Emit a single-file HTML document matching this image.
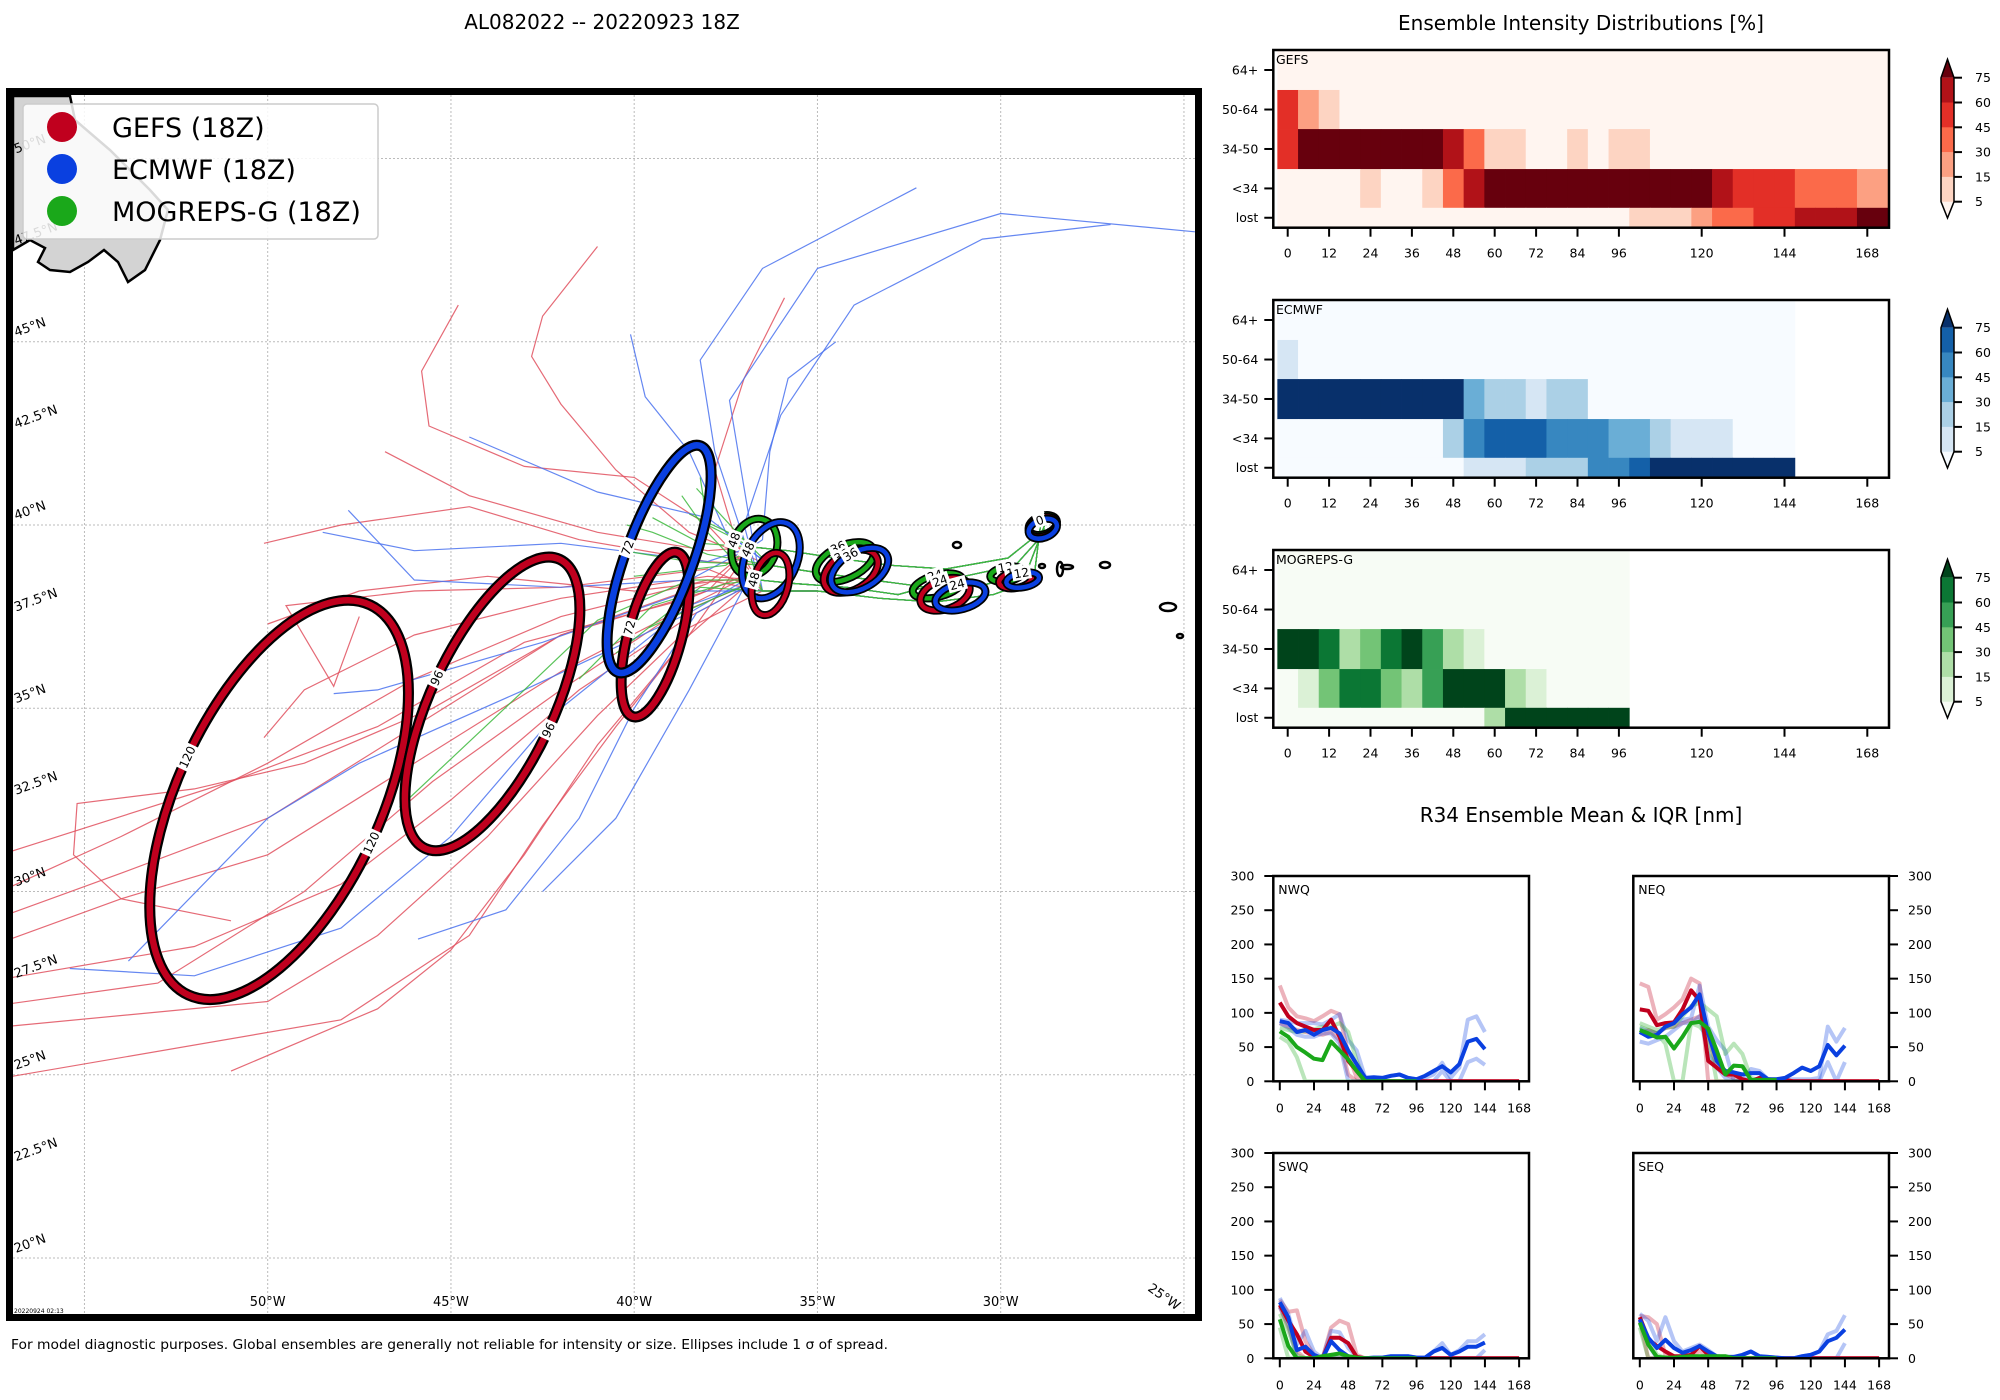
<!DOCTYPE html>
<html><head><meta charset="utf-8"><title>AL082022 ensemble</title>
<style>
html,body{margin:0;padding:0;background:#fff;}
svg{display:block;font-family:"DejaVu Sans","Liberation Sans",sans-serif;}
</style></head>
<body>
<svg id="fig" width="2000" height="1400" viewBox="0 0 2000 1400">
  <defs>
    <clipPath id="mapclip"><rect x="13" y="95" width="1182" height="1219"/></clipPath>
  </defs>
  <text x="602" y="29" font-size="20" text-anchor="middle">AL082022 -- 20220923 18Z</text>
  <text x="1581" y="30" font-size="20" text-anchor="middle">Ensemble Intensity Distributions [%]</text>
  <text x="1581" y="822" font-size="20" text-anchor="middle">R34 Ensemble Mean &amp; IQR [nm]</text>
  <text x="11" y="1349" font-size="13" textLength="877" lengthAdjust="spacingAndGlyphs">For model diagnostic purposes. Global ensembles are generally not reliable for intensity or size. Ellipses include 1 σ of spread.</text>
  <g id="map"></g>
  <g id="heat"></g>
  <g id="r34"></g>
</svg>
<script>
// ---------------- DATA ----------------
const heatHours = [0,6,12,18,24,30,36,42,48,54,60,66,72,78,84,90,96,102,108,114,120,126,132,138,144,150,156,162,168];
const heatRows = ['64+','50-64','34-50','<34','lost'];
const heatLevels = [5,15,30,45,60,75];
const gefsPct = [
 [0,0,0,0,0,0,0,0,0,0,0,0,0,0,0,0,0,0,0,0,0,0,0,0,0,0,0,0,0],
 [50,20,10,0,0,0,0,0,0,0,0,0,0,0,0,0,0,0,0,0,0,0,0,0,0,0,0,0,0],
 [50,90,90,90,90,90,90,90,70,40,10,10,0,0,10,0,10,10,0,0,0,0,0,0,0,0,0,0,0],
 [0,0,0,0,10,0,0,10,40,70,90,90,90,90,90,90,90,90,90,90,90,70,50,50,50,40,40,40,20],
 [0,0,0,0,0,0,0,0,0,0,0,0,0,0,0,0,0,10,10,10,20,40,40,50,50,70,70,70,90]
];
const ecmwfPct = [
 [0,0,0,0,0,0,0,0,0,0,0,0,0,0,0,0,0,0,0,0,0,0,0,0,0],
 [10,0,0,0,0,0,0,0,0,0,0,0,0,0,0,0,0,0,0,0,0,0,0,0,0],
 [90,90,90,90,90,90,90,90,90,40,20,20,10,20,20,0,0,0,0,0,0,0,0,0,0],
 [0,0,0,0,0,0,0,0,20,50,70,70,70,50,50,50,40,40,20,10,10,10,0,0,0],
 [0,0,0,0,0,0,0,0,0,10,10,10,20,20,20,50,50,70,90,90,90,90,90,90,90]
];
const mogPct = [
 [0,0,0,0,0,0,0,0,0,0,0,0,0,0,0,0,0],
 [0,0,0,0,0,0,0,0,0,0,0,0,0,0,0,0,0],
 [90,90,70,20,40,70,90,50,20,10,0,0,0,0,0,0,0],
 [0,10,40,70,70,40,20,50,90,90,90,20,10,0,0,0,0],
 [0,0,0,0,0,0,0,0,0,0,20,90,90,90,90,90,90]
];
const reds   = ['#fff5f0','#fdd4c2','#fca082','#fb6a4a','#e32f27','#b11218','#67000d'];
const blues  = ['#f7fbff','#d6e6f4','#abd0e6','#6aaed6','#3787c0','#1460a8','#08306b'];
const greens = ['#f7fcf5','#dbf1d6','#aedea7','#73c476','#37a055','#0b7734','#00441b'];
const heatXTicks = [0,12,24,36,48,60,72,84,96,120,144,168];

// R34 (nm)
const r34Hours = [0,6,12,18,24,30,36,42,48,54,60,66,72,78,84,90,96,102,108,114,120,126,132,138,144,150,156,162,168];
const r34Ticks = [0,24,48,72,96,120,144,168];
const r34YTicks = [0,50,100,150,200,250,300];
const nwqGefsMean = [115,95,85,80,75,75,90,65,30,15,0,0,0,0,0,0,0,0,0,0,0,0,0,0,0,0,0,0,0];
const nwqGefsHi   = [140,108,95,92,88,95,103,98,40,5,0,0,0,0,0,0,0,0,0,0,0,0,0,0,0,0,0,0,0];
const nwqGefsLo   = [85,80,75,72,70,68,72,60,10,0,0,0,0,0,0,0,0,0,0,0,0,0,0,0,0,0,0,0,0];
const nwqEcMean = [88,85,72,75,68,75,78,70,45,25,5,6,5,8,10,5,3,8,15,22,13,25,58,62,47];
const nwqEcHi   = [90,88,85,85,85,83,90,98,60,45,5,5,5,8,10,5,3,5,10,27,5,20,90,95,72];
const nwqEcLo   = [85,78,68,65,65,70,70,55,0,0,0,0,0,0,0,0,0,0,0,15,0,0,28,33,24];
const nwqMoMean = [73,65,50,42,33,31,58,45,32,15,0,0,0,0,0,0,0];
const nwqMoHi   = [78,75,72,73,76,80,80,85,72,30,0,0,0,0,0,0,0];
const nwqMoLo   = [65,57,35,0,0,0,0,0,0,0,0,0,0,0,0,0,0];
const neqGefsMean = [105,103,82,85,86,105,133,118,30,20,10,10,3,0,5,3,2,2,0,0,0,0,0,0,0,0,0,0,0];
const neqGefsHi   = [143,138,90,98,108,120,150,143,0,0,0,0,0,0,0,0,0,0,0,0,0,0,0,0,0,0,0,0,0];
const neqGefsLo   = [70,75,70,78,80,85,90,95,65,20,10,5,0,0,0,0,0,0,0,0,0,0,0,0,0,0,0,0,0];
const neqEcMean = [72,65,68,80,85,98,108,127,70,30,15,13,10,12,12,3,3,5,12,20,15,22,53,38,52];
const neqEcHi   = [78,73,70,78,87,90,92,140,80,60,45,0,0,18,15,3,3,3,3,3,3,5,80,58,78];
const neqEcLo   = [58,55,60,65,75,85,85,95,40,20,5,0,0,0,0,0,0,0,0,0,0,0,28,0,28];
const neqMoMean = [75,70,64,65,48,65,85,87,77,45,10,23,22,2,2,2,2];
const neqMoHi   = [85,80,75,78,80,95,110,115,105,95,40,55,40,5,2,2,2];
const neqMoLo   = [80,75,70,55,0,0,85,80,65,0,0,0,0,0,0,0,0];
const swqGefsMean = [78,55,35,10,2,0,30,30,22,2,0,0,0,0,0,0,0,0,0,0,0,0,0,0,0,0,0,0,0];
const swqGefsHi   = [85,68,70,25,5,0,45,55,50,5,0,0,0,0,0,0,0,0,0,0,0,0,0,0,0,0,0,0,0];
const swqGefsLo   = [75,45,10,0,0,0,0,0,0,0,0,0,0,0,0,0,0,0,0,0,0,0,0,0,0,0,0,0,0];
const swqEcMean = [82,60,12,17,5,0,25,12,3,0,0,1,1,3,3,3,1,1,10,15,5,10,17,17,23];
const swqEcHi   = [88,65,20,40,10,0,40,38,15,2,0,1,1,3,3,3,1,1,10,22,5,12,25,25,35];
const swqEcLo   = [75,50,0,0,0,0,0,0,0,0,0,0,0,0,0,0,0,0,0,0,0,0,0,0,12];
const swqMoMean = [57,18,0,0,0,3,5,7,3,1,0,0,0,0,0,0,0];
const swqMoHi   = [65,40,5,0,0,3,5,7,3,1,0,0,0,0,0,0,0];
const swqMoLo   = [45,0,0,0,0,0,0,0,0,0,0,0,0,0,0,0,0];
const seqGefsMean = [60,28,18,10,3,3,5,18,5,2,0,0,0,0,0,0,0,0,0,0,0,0,0,0,0,0,0,0,0];
const seqGefsHi   = [62,60,50,5,0,0,5,10,5,2,0,0,0,0,0,0,0,0,0,0,0,0,0,0,0,0,0,0,0];
const seqGefsLo   = [55,0,0,0,0,0,0,0,0,0,0,0,0,0,0,0,0,0,0,0,0,0,0,0,0,0,0,0,0];
const seqEcMean = [57,30,15,27,15,8,12,18,10,3,2,2,5,10,3,2,1,0,0,3,5,10,25,30,42];
const seqEcHi   = [65,55,25,60,25,10,15,20,12,3,2,2,5,10,3,2,1,0,0,3,5,10,35,40,63];
const seqEcLo   = [55,20,0,0,0,0,0,0,0,0,0,0,0,0,0,0,0,0,0,0,0,0,0,0,22];
const seqMoMean = [52,20,2,1,1,2,3,3,3,3,3,0,0,0,0,0,0];
const seqMoHi   = [60,30,5,1,1,2,3,3,3,3,3,0,0,0,0,0,0];
const seqMoLo   = [45,0,0,0,0,0,0,0,0,0,0,0,0,0,0,0,0];

// Map: tracks as [lonW, lat]
const trunkA = [[28.8,40.0],[29.3,38.7],[30.5,38.35],[32,38.3],[33.5,38.5],[35,38.7],[36.3,38.9]];
const trunkB = [[28.7,39.9],[29.6,38.9],[31,38.6],[32.8,38.1],[34.2,38.3],[35.6,38.4],[36.6,38.5]];
const trunkC = [[28.9,40.1],[29.1,38.5],[30.2,38.1],[31.8,37.9],[33.3,38.0],[35,38.2],[36.5,38.2]];
const trunkD = [[28.8,39.9],[29.8,39.1],[31.5,38.8],[33,38.9],[34.5,39.1],[35.8,39.3],[36.8,39.4]];
const trunks = [trunkA,trunkB,trunkC,trunkD];
const gefsTracks = [
 [[38.5,39.8],[40.5,41.5],[42.0,43.3],[42.8,44.6],[42.5,45.7],[41.0,47.6]],
 [[38,40.0],[40,41.3],[43,41.6],[45.6,42.7],[45.8,44.2],[44.8,46.0]],
 [[38,38.5],[42,37.5],[46,35.8],[50,33.5],[54,31.5],[57.3,30.0]],
 [[38,38.2],[42,37],[46,34.5],[50,32],[54,30.5],[57.3,29.3]],
 [[38.5,37.8],[42,36],[46,33.5],[50,31],[54,29.8],[57.3,28.6]],
 [[38.5,37.5],[41.5,35.5],[45,32.5],[48,30.2],[52,28.5],[57.3,27.6]],
 [[38.5,37.2],[41,34.8],[44,31.5],[47,28.8],[50,27.0],[57.3,26.3]],
 [[38.5,37],[41,34],[43,31],[45,28.4],[47,26.8],[51,25.1]],
 [[38.5,37.0],[40.5,34.5],[42.5,31.8],[44.5,28.8],[48,26.5],[57.3,24.9]],
 [[38,38.6],[42,38.0],[46,37.0],[49,35.5],[50.1,34.2]],
 [[38,38.8],[42,38.3],[46,38.2],[49.5,37.8],[48.2,35.6],[47.5,37.5]],
 [[38,38.4],[42,37],[45.5,35],[49,33.5],[52,32.8],[55.2,32.4],[55.3,31.0],[54,29.8],[51,29.2]],
 [[38,39],[41.5,39.6],[44.5,40.5],[48,40.0],[50.1,39.5]],
 [[37.5,38.5],[40,38.2],[44,38.6],[47.5,38.2],[50,37.3]],
 [[37.2,39.5],[37.8,41.5],[37,44],[35.9,46.2]],
 [[38,39.3],[41,39.8],[44.5,40.8],[46.8,42.0]],
 [[38.5,38.0],[43,36.8],[47,34.5],[51,33],[57.3,31.0]],
 [[39,37.5],[42,35.5],[45.5,33],[49,30],[53,27.5],[57.3,26.9]]
];
const ecmwfTracks = [
 [[37,39.6],[37.8,42],[38.2,44.5],[36.5,47],[32.3,49.2]],
 [[36.8,39.8],[37.4,43.4],[35,47],[30,48.5],[24.7,48.0]],
 [[36.5,39.6],[36.3,42],[35.8,44],[34.5,45.0]],
 [[37.5,39.8],[38.5,42],[39.7,43.5],[40.1,45.2]],
 [[38.5,37.8],[42,35.0],[45,31.5],[48,29.0],[52,27.7],[55.4,27.9]],
 [[38.5,38.2],[42.5,36.8],[47,35.5],[48.2,35.4]],
 [[38.5,38.5],[42,38.3],[46,38.5],[47.8,40.4]],
 [[38,40.2],[41,40.9],[44.5,42.4]],
 [[38.3,37.6],[40,35],[41.5,32],[43.5,29.5],[45.9,28.7]],
 [[37,38.3],[38.5,35.5],[40.5,32],[42.5,30.0]],
 [[38,39],[42,39.5],[46,39.3],[48.5,39.8]],
 [[38.5,37.6],[43,35.5],[47.5,33.5],[50,32],[53.8,28.1]],
 [[37,40.0],[36,43],[34,46],[30.5,47.8],[27,48.2]]
];
const mogTracks = [
 [[38,39.8],[38.7,40.8]],
 [[38.2,39.5],[39.5,40.2]],
 [[38,39.2],[39.5,39.8],[40.2,40.0]],
 [[38.5,38.5],[41,37.4],[43,35.5],[46.4,32.3]],
 [[38.2,38.3],[40.5,36.5]],
 [[38,40.0],[38.2,41.3]],
 [[38.5,39],[40.3,39.3]],
 [[37.5,38.4],[39.5,37.8],[41.5,35.8]],
 [[37,39.6],[38.5,40.3]],
 [[37.5,38.9],[40.0,38.6]],
 [[37.2,39.8],[38.3,41.0]],
 [[37.8,38.0],[39.6,37.2]]
];
const ellModel = ['g','g','g','e','m','e','g','m','g','e','m','g','e','m','g','e','m','g','e'];
const ellHour  = [120,96,72,72,48,48,48,36,36,36,24,24,24,12,12,12,0,0,0];
const ellLon   = [49.69,43.87,39.43,39.32,36.72,36.27,36.28,34.25,34.09,33.85,31.72,31.52,31.10,29.84,29.6,29.4,28.85,28.85,28.85];
const ellLat   = [32.5,35.12,37.01,39.07,39.39,39.04,38.39,38.99,38.74,38.77,38.34,38.11,38.05,38.66,38.5,38.5,40.0,39.95,39.9];
const ellA     = [5.87,4.35,2.32,3.29,0.8,1.1,0.87,0.85,0.8,0.85,0.7,0.7,0.7,0.45,0.45,0.45,0.4,0.4,0.4];
const ellB     = [2.77,1.68,0.73,0.92,0.6,0.7,0.48,0.45,0.5,0.5,0.3,0.4,0.35,0.2,0.22,0.2,0.25,0.25,0.25];
const ellAng   = [65,65,75,70,70,65,75,25,30,30,15,20,15,10,10,10,20,20,20];
const latTicks = [20,22.5,25,27.5,30,32.5,35,37.5,40,42.5,45,47.5,50];
const lonTicks = [50,45,40,35,30];
const gridLats = [20,25,30,35,40,45,50];
const gridLons = [55,50,45,40,35,30,25];

// ---------------- HELPERS ----------------
const NS='http://www.w3.org/2000/svg';
const svg=document.getElementById('fig');
function mk(tag,attrs,parent){const e=document.createElementNS(NS,tag);for(const k in attrs)e.setAttribute(k,attrs[k]);(parent||svg).appendChild(e);return e;}
const modelColor={g:'#c0001e',e:'#0a40e0',m:'#1aa81a'};
const trackColor={g:'#e0505e',e:'#4a72ee',m:'#3cb83c'};

// ---------------- MAP ----------------
const mapG=document.getElementById('map');
const mapX = lonW => 267.7 + (50 - lonW)*36.65;
const mapY = lat => 525 + (40 - lat)*36.65;
const inner=mk('g',{'clip-path':'url(#mapclip)'},mapG);


gridLats.forEach(la=>{const l=mk('line',{x1:13,x2:1195,y1:mapY(la),y2:mapY(la),stroke:'#bbb','stroke-width':1,'stroke-dasharray':'2,2'},inner);
 
 });
gridLons.forEach(lo=>{const l=mk('line',{y1:95,y2:1314,x1:mapX(lo),x2:mapX(lo),stroke:'#bbb','stroke-width':1,'stroke-dasharray':'2,2'},inner);
 
 });
const land=mk('path',{d:'M13,96 L70,96 L75,120 L110,150 L150,190 L168,210 L160,240 L145,270 L128,282 L118,262 L104,250 L88,262 L70,272 L50,270 L38,262 L45,248 L30,240 L13,250 Z',fill:'#d3d3d3',stroke:'#000','stroke-width':2.5},inner);


[[957,545,4,3],[1060,569,3,7],[1067,567,6,2],[1105,565,5,3],[1168,607,8,4],[1180,636,3,2],[1042,566,3,2]].forEach(p=>{
 const e=mk('ellipse',{cx:p[0],cy:p[1],rx:p[2],ry:p[3],fill:'none',stroke:'#000','stroke-width':2.5},inner);
 
 });
function drawTracks(list,m,off){list.forEach((t,i)=>{const tr=trunks[(i+off)%trunks.length];
 const pts=tr.concat(t).map(p=>mapX(p[0]).toFixed(1)+','+mapY(p[1]).toFixed(1)).join(' ');
 const pl=mk('polyline',{points:pts,fill:'none',stroke:trackColor[m],'stroke-width':1.2,'stroke-opacity':0.85},inner);
 
 });}
drawTracks(gefsTracks,'g',0);drawTracks(ecmwfTracks,'e',1);drawTracks(mogTracks,'m',2);
const PX=36.65;
ellHour.forEach((h,i)=>{
 const cx=mapX(ellLon[i]),cy=mapY(ellLat[i]),rx=ellA[i]*PX,ry=ellB[i]*PX,ang=ellAng[i];
 const g=mk('g',{transform:`translate(${cx.toFixed(1)},${cy.toFixed(1)}) rotate(${-ang})`},inner);
 
 
 const big=h>=72;
 mk('ellipse',{cx:0,cy:0,rx:rx,ry:ry,fill:'none',stroke:'#000','stroke-width':big?11:8},g);
 mk('ellipse',{cx:0,cy:0,rx:rx,ry:ry,fill:'none',stroke:modelColor[ellModel[i]],'stroke-width':big?6.5:4.5},g);
 const ends = (h>=96)?[ry,-ry]:[-ry];
 ends.forEach(v=>{const lg=mk('g',{transform:`translate(0,${v})`},g);
  
  
  const s=String(h);const w=s.length*7.5+4;
  mk('rect',{x:-w/2,y:-7,width:w,height:14,fill:'#fff'},lg);
  mk('text',{x:0,y:4.5,'font-size':12,'text-anchor':'middle'},lg).textContent=s;});
});
latTicks.forEach(la=>{const t=mk('text',{x:16,y:mapY(la)-5,'font-size':13,transform:`rotate(-20 16 ${mapY(la)-5})`},mapG);
 t.textContent=la+'°N';
 
 });
lonTicks.forEach(lo=>{const t=mk('text',{x:mapX(lo),y:1306,'font-size':13,'text-anchor':'middle'},mapG);
 t.textContent=lo+'°W';
 
 });
const t25=mk('text',{x:1147,y:1290,'font-size':13,transform:'rotate(35 1147 1290)'},mapG);
t25.textContent='25°W';


const ts=mk('text',{x:14,y:1313,'font-size':6},mapG);
ts.textContent='20220924 02:13';


const leg=mk('g',{},mapG);


mk('rect',{x:23,y:104,width:355,height:135,rx:4,fill:'#fff','fill-opacity':0.85,stroke:'#ccc','stroke-width':1.5},leg);
const legNames=['GEFS (18Z)','ECMWF (18Z)','MOGREPS-G (18Z)'];
const legModels=['g','e','m'];
legNames.forEach((n,i)=>{const y=127+i*42;
 const e=mk('g',{},leg);
 
 
 mk('circle',{cx:62,cy:y,r:15,fill:modelColor[legModels[i]]},e);
 mk('text',{x:112,y:y+10,'font-size':27},e).textContent=n;});
const fr=mk('rect',{x:9.5,y:91.5,width:1189,height:1226,fill:'none',stroke:'#000','stroke-width':7},mapG);



// ---------------- HEATMAPS ----------------
const heatG=document.getElementById('heat');
const HL=1273.3,HR=1889,HH=177.7;
const hx = h => 1287.7 + h*3.45;
const rowFr=[0,0.225,0.445,0.67,0.888,1];
const rowTick=[0.1125,0.335,0.557,0.779,0.944];
function level(v){let k=0;heatLevels.forEach(l=>{if(v>=l)k++;});return k;}
function renderHeat(top,data,cmap,label,nm){
 const g=mk('g',{},heatG);
 
 
 mk('rect',{x:HL,y:top,width:HR-HL,height:HH,fill:'#fff'},g);
 data.forEach((row,r)=>{row.forEach((v,c)=>{const h=heatHours[c];
  const x0=Math.max(HL,hx(h-3));const x1=(c===heatHours.length-1)?HR:hx(h+3);
  const y0=top+rowFr[r]*HH,y1=top+rowFr[r+1]*HH;
  const cell=mk('rect',{x:x0.toFixed(2),y:y0.toFixed(2),width:(x1-x0+0.4).toFixed(2),height:(y1-y0+0.4).toFixed(2),fill:cmap[level(v)]},g);
  
  });});
 mk('rect',{x:HL,y:top,width:HR-HL,height:HH,fill:'none',stroke:'#000','stroke-width':2.5},g);
 mk('text',{x:1276,y:top+14,'font-size':12.5},g).textContent=label;
 heatRows.forEach((rn,r)=>{const y=top+rowTick[r]*HH;
  mk('line',{x1:HL-9,x2:HL,y1:y,y2:y,stroke:'#000','stroke-width':2},g);
  const t=mk('text',{x:HL-15,y:y+4.5,'font-size':12.5,'text-anchor':'end'},g);
  t.textContent=rn;
  
  });
 heatXTicks.forEach(h=>{const x=hx(h);
  mk('line',{x1:x,x2:x,y1:top+HH,y2:top+HH+9,stroke:'#000','stroke-width':2},g);
  const t=mk('text',{x:x,y:top+HH+30,'font-size':12.5,'text-anchor':'middle'},g);
  t.textContent=h;
  
  });
 const cb=mk('g',{},g);
 
 
 const cx0=1941,cx1=1954,ct=top+27.7,cbH=124/5;
 mk('polygon',{points:`${cx0},${ct} ${(cx0+cx1)/2},${top+9.3} ${cx1},${ct}`,fill:cmap[6]},cb);
 for(let k=0;k<5;k++){mk('rect',{x:cx0,y:ct+k*cbH,width:cx1-cx0,height:cbH+0.3,fill:cmap[5-k]},cb);}
 mk('polygon',{points:`${cx0},${ct+124} ${(cx0+cx1)/2},${top+168} ${cx1},${ct+124}`,fill:cmap[0]},cb);
 mk('path',{d:`M${cx0},${ct} L${(cx0+cx1)/2},${top+9.3} L${cx1},${ct} L${cx1},${ct+124} L${(cx0+cx1)/2},${top+168} L${cx0},${ct+124} Z`,fill:'none',stroke:'#000','stroke-width':1.5},cb);
 [75,60,45,30,15,5].forEach((v,k)=>{const y=ct+k*cbH;
  mk('line',{x1:cx1,x2:cx1+8,y1:y,y2:y,stroke:'#000','stroke-width':2},cb);
  mk('text',{x:1975,y:y+4.5,'font-size':12.5},cb).textContent=v;});
}
renderHeat(50,gefsPct,reds,'GEFS','gefs');
renderHeat(300,ecmwfPct,blues,'ECMWF','ecmwf');
renderHeat(550,mogPct,greens,'MOGREPS-G','mogreps');

// ---------------- R34 ----------------
const r34G=document.getElementById('r34');
const RW=255.7,RH=205.3;
function renderR34(left,top,label,right,series){
 const g=mk('g',{},r34G);
 
 
 const rx=h=>left+6.5+h*1.4245;
 const ry=v=>top+RH-v*(RH/300);
 const cid='clip'+label;
 const cp=mk('clipPath',{id:cid},g);mk('rect',{x:left,y:top,width:RW,height:RH},cp);
 const pg=mk('g',{'clip-path':`url(#${cid})`},g);
 series.forEach(s=>{const pts=s.v.map((v,i)=>rx(r34Hours[i]).toFixed(1)+','+ry(v).toFixed(1)).join(' ');
  const pl=mk('polyline',{points:pts,fill:'none',stroke:s.c,'stroke-width':s.w,'stroke-opacity':s.o,'stroke-linejoin':'round'},pg);
  
  });
 mk('rect',{x:left,y:top,width:RW,height:RH,fill:'none',stroke:'#000','stroke-width':2.5},g);
 mk('text',{x:left+5,y:top+18,'font-size':12.5},g).textContent=label;
 r34Ticks.forEach(h=>{const x=rx(h);
  mk('line',{x1:x,x2:x,y1:top+RH,y2:top+RH+9,stroke:'#000','stroke-width':2},g);
  const t=mk('text',{x:x,y:top+RH+31,'font-size':12.5,'text-anchor':'middle'},g);
  t.textContent=h;
  
  });
 r34YTicks.forEach(v=>{const y=ry(v);
  if(right){mk('line',{x1:left+RW,x2:left+RW+9,y1:y,y2:y,stroke:'#000','stroke-width':2},g);
   const t=mk('text',{x:left+RW+19,y:y+4.5,'font-size':12.5},g);t.textContent=v;
   
   }
  else{mk('line',{x1:left-9,x2:left,y1:y,y2:y,stroke:'#000','stroke-width':2},g);
   const t=mk('text',{x:left-19,y:y+4.5,'font-size':12.5,'text-anchor':'end'},g);t.textContent=v;
   
   }
 });
}
function ser(gm,gh,gl,em,eh,el,mm,mh,ml){
 const R='#c0001e',B='#0a40e0',G='#1aa81a';
 return [
  {v:gh,c:R,w:4,o:0.3,n:'gefs-iqr-high'},{v:gl,c:R,w:4,o:0.3,n:'gefs-iqr-low'},
  {v:eh,c:B,w:4,o:0.3,n:'ecmwf-iqr-high'},{v:el,c:B,w:4,o:0.3,n:'ecmwf-iqr-low'},
  {v:mh,c:G,w:4,o:0.3,n:'mogreps-iqr-high'},{v:ml,c:G,w:4,o:0.3,n:'mogreps-iqr-low'},
  {v:gm,c:R,w:4,o:1,n:'gefs-mean'},{v:em,c:B,w:4,o:1,n:'ecmwf-mean'},{v:mm,c:G,w:4,o:1,n:'mogreps-mean'}];
}
renderR34(1273.3,876,'NWQ',false,ser(nwqGefsMean,nwqGefsHi,nwqGefsLo,nwqEcMean,nwqEcHi,nwqEcLo,nwqMoMean,nwqMoHi,nwqMoLo));
renderR34(1633.3,876,'NEQ',true,ser(neqGefsMean,neqGefsHi,neqGefsLo,neqEcMean,neqEcHi,neqEcLo,neqMoMean,neqMoHi,neqMoLo));
renderR34(1273.3,1153,'SWQ',false,ser(swqGefsMean,swqGefsHi,swqGefsLo,swqEcMean,swqEcHi,swqEcLo,swqMoMean,swqMoHi,swqMoLo));
renderR34(1633.3,1153,'SEQ',true,ser(seqGefsMean,seqGefsHi,seqGefsLo,seqEcMean,seqEcHi,seqEcLo,seqMoMean,seqMoHi,seqMoLo));
</script>
</body></html>
